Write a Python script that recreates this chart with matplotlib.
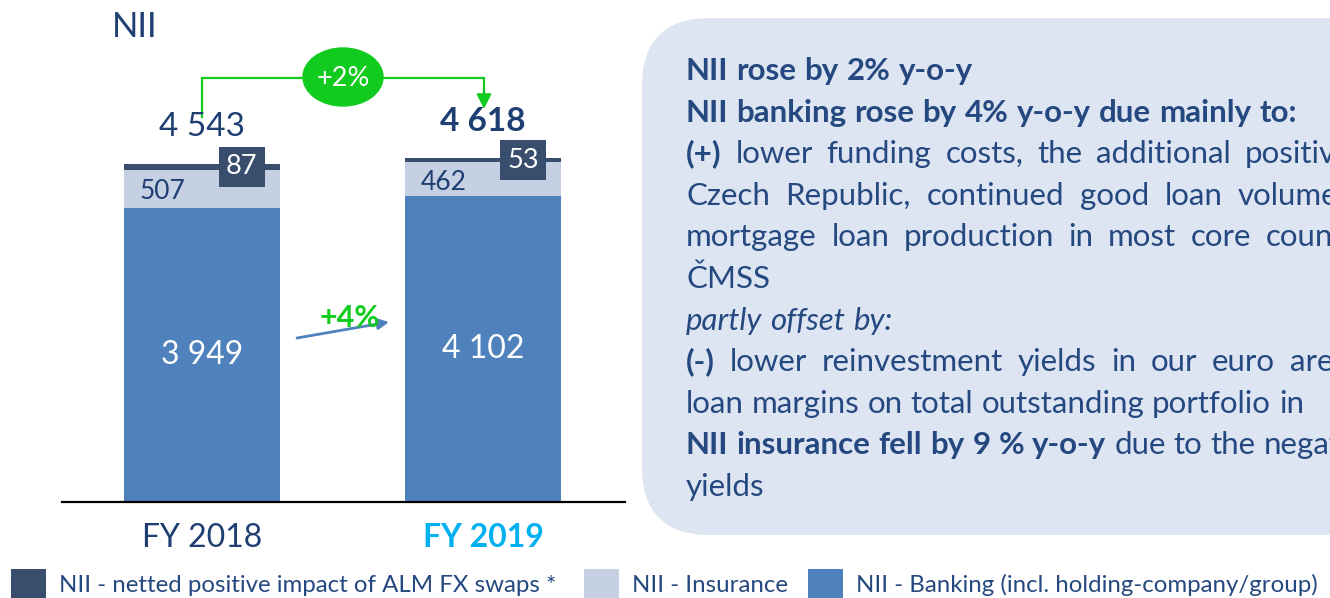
import matplotlib
matplotlib.use("Agg")
import matplotlib.pyplot as plt
from matplotlib.patches import FancyBboxPatch, Ellipse, Rectangle

plt.rcParams['font.family'] = ['Lato', 'DejaVu Sans']

# data
years = ['FY 2018', 'FY 2019']
banking = [3949, 4102]
insurance = [507, 462]
alm = [87, 53]
total_labels = ['4 543', '4 618']

# colours
c_bank = '#4f81bd'
c_ins = '#c5d0e3'
c_alm = '#394e6d'
navy = '#1f3f73'
txt = '#24487f'
green = '#11cc1f'
box_col = '#dce5f1'

fig = plt.figure(figsize=(13.3, 5.98), dpi=100)
r = fig.canvas.get_renderer()

# overlay in pixel coordinates
ov = fig.add_axes([0, 0, 1, 1])
ov.set_xlim(0, 1330)
ov.set_ylim(598, 0)
ov.axis('off')

# bar axes
ax = fig.add_axes([62/1330, 96/598, 563/1330, 442/598])
ax.patch.set_alpha(0)
x = [0, 1]
w = 0.555
ax.bar(x, banking, w, color=c_bank)
ax.bar(x, insurance, w, bottom=banking, color=c_ins)
base2 = [b + i for b, i in zip(banking, insurance)]
ax.bar(x, alm, w, bottom=base2, color=c_alm)
ax.set_xlim(-0.498, 1.505)
ax.set_ylim(0, 5933)
for s in ['top', 'right', 'left']:
    ax.spines[s].set_visible(False)
ax.spines['bottom'].set_linewidth(1.6)
ax.set_yticks([])
ax.set_xticks([])

def fmt(v):
    return f"{v:,}".replace(',', ' ')

for i in range(2):
    ax.text(x[i], banking[i] / 2, fmt(banking[i]), ha='center', va='center',
            color='white', fontsize=23)
    ax.text(x[i] - 0.14, banking[i] + insurance[i] / 2 - 40, fmt(insurance[i]),
            ha='center', va='center', color=navy, fontsize=19)
    ax.text(x[i] + 0.142, base2[i] + alm[i] / 2, str(alm[i]), ha='center', va='center',
            color='white', fontsize=19.5,
            bbox=dict(boxstyle='square,pad=0.27', fc=c_alm, ec='none'))
    tot = base2[i] + alm[i]
    ax.text(x[i], tot + 490, total_labels[i], ha='center', va='center', color=navy,
            fontsize=24, fontweight='bold' if i == 1 else 'normal')

ax.text(x[0], -480, years[0], ha='center', va='center', color=navy, fontsize=23)
ax.text(x[1], -480, years[1], ha='center', va='center', color='#00b0f0',
        fontsize=23, fontweight='bold')

# title
ov.text(112, 27, 'NII', ha='left', va='center', color=navy, fontsize=25)

# +2% connector
ov.plot([202, 202, 484, 484], [117, 78, 78, 95], color=green, lw=1.6, solid_joinstyle='miter')
ov.annotate('', xy=(484, 109), xytext=(484, 90),
            arrowprops=dict(arrowstyle='-|>', color=green, lw=1.6,
                            mutation_scale=22, shrinkA=0, shrinkB=0))
ov.add_patch(Ellipse((343, 77), 80, 58, color=green, zorder=3))
ov.text(343, 79, '+2%', ha='center', va='center', color='white', fontsize=19.5, zorder=4)

# +4% arrow
ov.annotate('', xy=(389, 322), xytext=(297, 338),
            arrowprops=dict(arrowstyle='-|>', color=c_bank, lw=2,
                            mutation_scale=16, shrinkA=0, shrinkB=0))
ov.text(350, 318, '+4%', ha='center', va='center', color=green, fontsize=22,
        fontweight='bold', zorder=4)

# commentary box
ov.add_patch(FancyBboxPatch((642, 18), 760, 517, boxstyle='round,pad=0,rounding_size=68',
                            fc=box_col, ec='none', zorder=0))

body_fs = 22.5

def word_w(word, **kw):
    t = ov.text(0, 0, word, fontsize=body_fs, **kw)
    wd = t.get_window_extent(r).width
    t.remove()
    return wd

space = word_w('a b') - word_w('ab')

def put_line(row, parts, last_x=None):
    y = 80 + 41.6 * row
    words = []
    for text, kw in parts:
        for wd in text.split(' '):
            words.append((wd, kw))
    widths = [word_w(wd, **kw) for wd, kw in words]
    gap = space
    if last_x is not None and len(words) > 1:
        gap = (last_x - 686 - sum(widths[:-1])) / (len(words) - 1)
    xx = 686
    for (wd, kw), wdt in zip(words, widths):
        ov.text(xx, y, wd, fontsize=body_fs, color=txt, va='baseline', ha='left', **kw)
        xx += wdt + gap

B = dict(fontweight='bold')
N = dict()
I = dict(fontstyle='italic')

put_line(0, [('NII rose by 2% y-o-y', B)])
put_line(1, [('NII banking rose by 4% y-o-y due mainly to:', B)])
put_line(2, [('(+)', B), ('lower funding costs, the additional positive', N)], last_x=1245)
put_line(3, [('Czech Republic, continued good loan volume', N)], last_x=1238)
put_line(4, [('mortgage loan production in most core countries', N)], last_x=1266)
put_line(5, [('ČMSS', N)])
put_line(6, [('partly offset by:', I)])
put_line(7, [('(-)', B), ('lower reinvestment yields in our euro area', N)], last_x=1290)
put_line(8, [('loan margins on total outstanding portfolio in', N)])
put_line(9, [('NII insurance fell by 9 % y-o-y', B), ('due to the negative', N)])
put_line(10, [('yields', N)])

# legend
leg = [(c_alm, 'NII - netted positive impact of ALM FX swaps *', 11),
       (c_ins, 'NII - Insurance', 584),
       (c_bank, 'NII - Banking (incl. holding-company/group)', 808)]
for col, lab, lx in leg:
    ov.add_patch(Rectangle((lx, 569), 35, 30, fc=col, ec='none'))
    ov.text(lx + 48, 585, lab, ha='left', va='center', color=txt, fontsize=17.3)

fig.savefig('out.png', dpi=100)
